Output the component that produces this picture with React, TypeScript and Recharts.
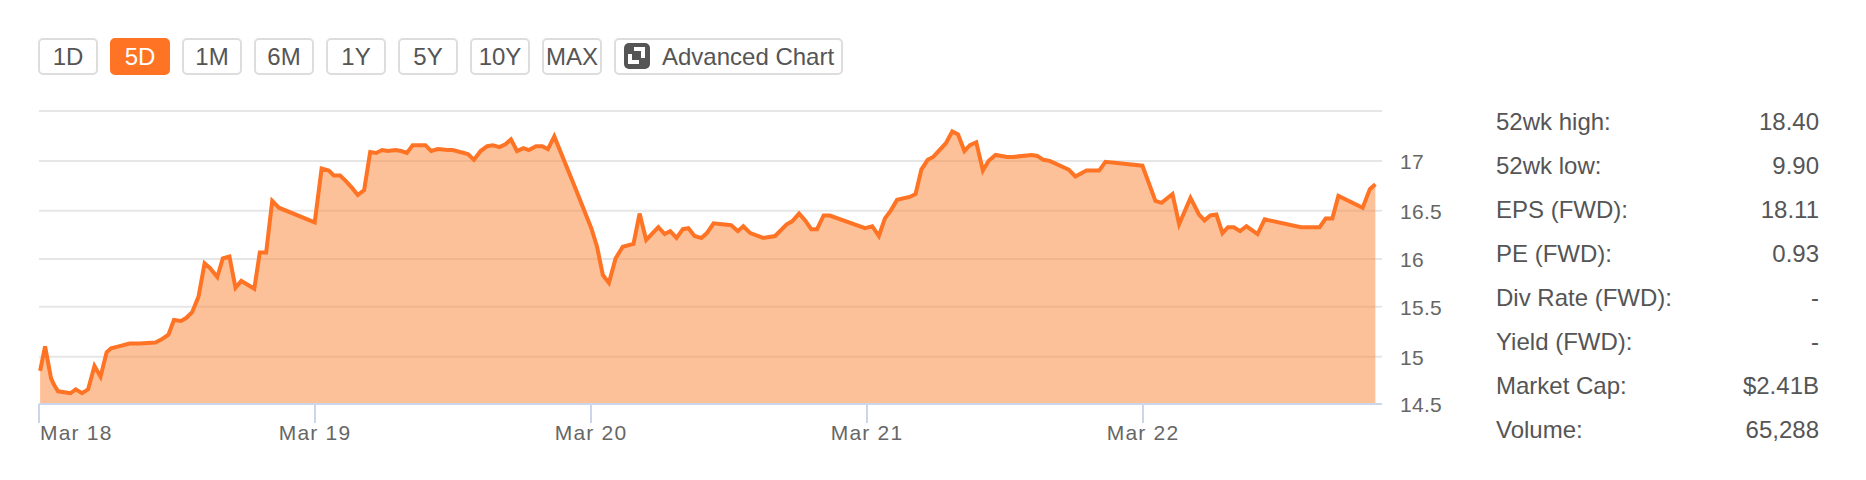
import { AreaChart, Area, XAxis, YAxis, CartesianGrid } from "recharts";

const FONT = '"Liberation Sans", Arial, sans-serif';
const ORANGE = "#ff7324";

const ranges = ["1D", "5D", "1M", "6M", "1Y", "5Y", "10Y", "MAX"];
const activeRange = "5D";

const dayLabels = ["Mar 18", "Mar 19", "Mar 20", "Mar 21", "Mar 22"];
const dayTicks = [0, 1, 2, 3, 4];
// gridlines in the picture sit a pixel or two off an even spacing
const priceTicks = [14.5, 14.984, 15.496, 15.985, 16.479, 16.988, 17.5];

const statLabels = ["52wk high:", "52wk low:", "EPS (FWD):", "PE (FWD):", "Div Rate (FWD):", "Yield (FWD):", "Market Cap:", "Volume:"];
const statValues = ["18.40", "9.90", "18.11", "0.93", "-", "-", "$2.41B", "65,288"];

// time is in days since the open of Mar 18
const times = [
  0.004, 0.022, 0.044, 0.054, 0.069, 0.092, 0.114, 0.133, 0.156, 0.178, 0.201, 0.223, 0.245, 0.261, 0.289, 0.328,
  0.364, 0.422, 0.443, 0.469, 0.489, 0.515, 0.533, 0.555, 0.578, 0.6, 0.62, 0.646, 0.666, 0.69, 0.712, 0.733, 0.78,
  0.8, 0.823, 0.845, 0.869, 0.999, 1.024, 1.05, 1.068, 1.091, 1.113, 1.135, 1.155, 1.178, 1.2, 1.222, 1.243, 1.264,
  1.292, 1.312, 1.333, 1.354, 1.376, 1.4, 1.421, 1.445, 1.481, 1.499, 1.554, 1.576, 1.6, 1.624, 1.644, 1.668, 1.69,
  1.71, 1.732, 1.755, 1.775, 1.801, 1.823, 1.844, 1.867, 1.946, 2.001, 2.022, 2.043, 2.065, 2.089, 2.115, 2.154,
  2.176, 2.2, 2.244, 2.267, 2.287, 2.31, 2.333, 2.353, 2.375, 2.4, 2.42, 2.444, 2.508, 2.532, 2.552, 2.577, 2.624,
  2.667, 2.709, 2.729, 2.754, 2.776, 2.798, 2.819, 2.843, 2.865, 2.993, 3.019, 3.043, 3.065, 3.086, 3.109, 3.155,
  3.176, 3.197, 3.22, 3.24, 3.286, 3.309, 3.33, 3.353, 3.373, 3.396, 3.42, 3.441, 3.466, 3.508, 3.53, 3.597, 3.617,
  3.639, 3.662, 3.731, 3.755, 3.795, 3.841, 3.864, 3.998, 4.045, 4.067, 4.107, 4.131, 4.172, 4.203, 4.223, 4.244,
  4.266, 4.288, 4.308, 4.329, 4.352, 4.375, 4.415, 4.441, 4.572, 4.64, 4.662, 4.686, 4.708, 4.796, 4.822, 4.842,
];

const prices = [
  14.84, 15.09, 14.76, 14.7, 14.63, 14.62, 14.61, 14.65, 14.61, 14.65, 14.89, 14.78, 15.03, 15.07, 15.09, 15.12,
  15.12, 15.13, 15.16, 15.21, 15.36, 15.35, 15.38, 15.44, 15.6, 15.94, 15.89, 15.8, 15.99, 16.01, 15.69, 15.76, 15.68,
  16.05, 16.05, 16.58, 16.51, 16.36, 16.91, 16.89, 16.84, 16.84, 16.78, 16.71, 16.64, 16.69, 17.08, 17.07, 17.1, 17.09,
  17.1, 17.09, 17.07, 17.15, 17.15, 17.15, 17.09, 17.11, 17.1, 17.1, 17.06, 17.0, 17.09, 17.14, 17.15, 17.13, 17.16,
  17.21, 17.09, 17.12, 17.1, 17.14, 17.14, 17.11, 17.24, 16.69, 16.3, 16.11, 15.82, 15.74, 15.99, 16.11, 16.14,
  16.45, 16.18, 16.31, 16.24, 16.27, 16.2, 16.29, 16.3, 16.22, 16.2, 16.25, 16.35, 16.33, 16.27, 16.32, 16.25, 16.2,
  16.22, 16.34, 16.37, 16.45, 16.38, 16.29, 16.29, 16.43, 16.43, 16.3, 16.32, 16.22, 16.4, 16.48, 16.59, 16.62,
  16.65, 16.9, 17.0, 17.03, 17.17, 17.29, 17.26, 17.09, 17.15, 17.18, 16.89, 16.99, 17.05, 17.03, 17.03, 17.05, 17.04,
  17.0, 16.99, 16.9, 16.83, 16.89, 16.89, 16.98, 16.94, 16.58, 16.56, 16.65, 16.34, 16.61, 16.44, 16.38, 16.43,
  16.44, 16.25, 16.31, 16.31, 16.27, 16.32, 16.24, 16.39, 16.31, 16.31, 16.4, 16.4, 16.63, 16.51, 16.7, 16.75,
];

const chartData = times.map((t, i) => ({ t, price: prices[i] }));

function DayTick({ x, y, index }: any) {
  const first = index === 0;
  return (
    <text x={first ? x + 1 : x} y={y + 15} textAnchor={first ? "start" : "middle"} fontSize={21} fontFamily={FONT} fill="#666" letterSpacing={1.2}>
      {dayLabels[index]}
    </text>
  );
}

function PriceTick({ x, y, payload, index }: any) {
  if (index === priceTicks.length - 1) return null;
  return (
    <text x={x} y={y + 8} fontSize={21} fontFamily={FONT} fill="#666" letterSpacing={0.3}>
      {Math.round(payload.value * 2) / 2}
    </text>
  );
}

function RangeButton({ label }: { label: string }) {
  const active = label === activeRange;
  return (
    <div
      style={{
        width: 60,
        height: 37,
        marginRight: 12,
        boxSizing: "border-box",
        border: `2px solid ${active ? ORANGE : "#ddd"}`,
        borderRadius: 5,
        background: active ? ORANGE : "#fff",
        color: active ? "#fff" : "#555",
        fontSize: 24,
        lineHeight: "33px",
        textAlign: "center",
        whiteSpace: "nowrap",
      }}
    >
      {label}
    </div>
  );
}

function AdvancedButton() {
  return (
    <div
      style={{
        width: 229,
        height: 37,
        boxSizing: "border-box",
        border: "2px solid #ddd",
        borderRadius: 5,
        color: "#555",
        fontSize: 24,
        lineHeight: "33px",
        display: "flex",
        whiteSpace: "nowrap",
      }}
    >
      <svg width={26} height={26} style={{ margin: "3px 12px 0 8px", flexShrink: 0 }}>
        <rect width={26} height={26} rx={5} fill="#555" />
        <path d="M10 4h11v11h-4V8h-7zM4 11h4v6h7v4H4z" fill="#fff" />
      </svg>
      Advanced Chart
    </div>
  );
}

export default function App() {
  return (
    <div style={{ position: "absolute", left: 0, top: 0, width: 1866, height: 480, background: "#fff", fontFamily: FONT, overflow: "hidden" }}>
      <div style={{ position: "absolute", left: 38, top: 38, display: "flex" }}>
        {ranges.map((r) => (
          <RangeButton key={r} label={r} />
        ))}
        <AdvancedButton />
      </div>

      <AreaChart width={1866} height={480} data={chartData} margin={{ top: 111, right: 424, bottom: 26, left: 39 }}>
        <CartesianGrid vertical={false} stroke="#e6e6e6" strokeWidth={2} />
        <XAxis
          dataKey="t"
          type="number"
          domain={[0, 4.866]}
          ticks={dayTicks}
          interval={0}
          height={50}
          tickSize={19}
          stroke="#ccd6eb"
          strokeWidth={2}
          tick={<DayTick />}
        />
        <YAxis
          orientation="right"
          domain={[14.5, 17.5]}
          ticks={priceTicks}
          interval={0}
          width={60}
          axisLine={false}
          tickLine={false}
          tickMargin={12}
          tick={<PriceTick />}
        />
        <Area
          dataKey="price"
          type="linear"
          stroke={ORANGE}
          strokeWidth={4}
          fill="#f98331"
          fillOpacity={0.5}
          dot={false}
          activeDot={false}
          isAnimationActive={false}
        />
      </AreaChart>

      {statLabels.map((label, i) => (
        <div key={label} style={{ position: "absolute", left: 1496, width: 323, top: 108 + i * 44, display: "flex", justifyContent: "space-between", fontSize: 24, lineHeight: "28px", color: "#555" }}>
          <span>{label}</span>
          <span>{statValues[i]}</span>
        </div>
      ))}
    </div>
  );
}
